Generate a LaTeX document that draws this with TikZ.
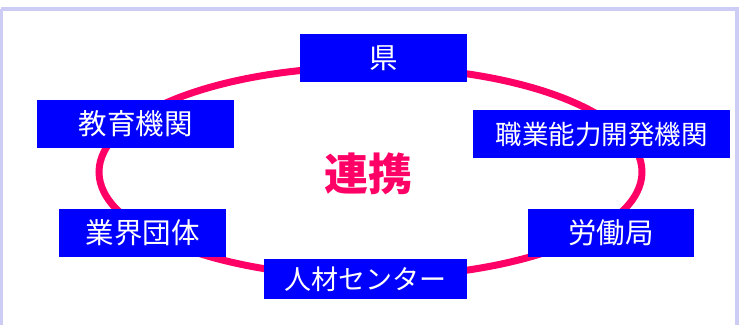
\documentclass[tikz,border=0pt]{standalone}
\usepackage{fontspec}
\usetikzlibrary{shapes.geometric}
\setmainfont{Noto Sans CJK JP}
\definecolor{rimc}{HTML}{CCCCF5}
\definecolor{pinkc}{HTML}{FF0066}
\definecolor{boxc}{HTML}{0000FF}
\begin{document}
\begin{tikzpicture}[x=1pt,y=-1pt,
  orgbox/.style={fill=boxc,text=white,inner sep=0pt,font=\fontsize{28.5}{30}\selectfont},
]
\useasboundingbox (0,0) rectangle (739,324);
\fill[white] (0,0) rectangle (739,324);
\draw[rimc,line width=4] (1,9) -- (737,9) -- (737,330);
\draw[rimc,line width=3] (1,9) -- (1,330);
\node[draw=pinkc,line width=7,ellipse,minimum width=543,minimum height=210,inner sep=0pt] (ring) at (370.5,172) {};
\node[text=pinkc,font=\fontsize{44}{48}\selectfont\bfseries] (center) at (368,174) {連携};
\node[orgbox,minimum width=167,minimum height=48] (ken) at (383.5,57.8) {県};
\node[orgbox,minimum width=197,minimum height=48] (edu) at (135.5,124) {教育機関};
\node[orgbox,minimum width=257,minimum height=48,font=\fontsize{26.5}{28}\selectfont] (voc) at (601.5,134) {職業能力開発機関};
\node[orgbox,minimum width=167,minimum height=48] (ind) at (142.5,233) {業界団体};
\node[orgbox,minimum width=166,minimum height=48] (lab) at (611,233) {労働局};
\node[orgbox,minimum width=203,minimum height=40,font=\fontsize{27}{28}\selectfont] (hr) at (365.5,278.8) {人材センター};
\end{tikzpicture}
\end{document}
